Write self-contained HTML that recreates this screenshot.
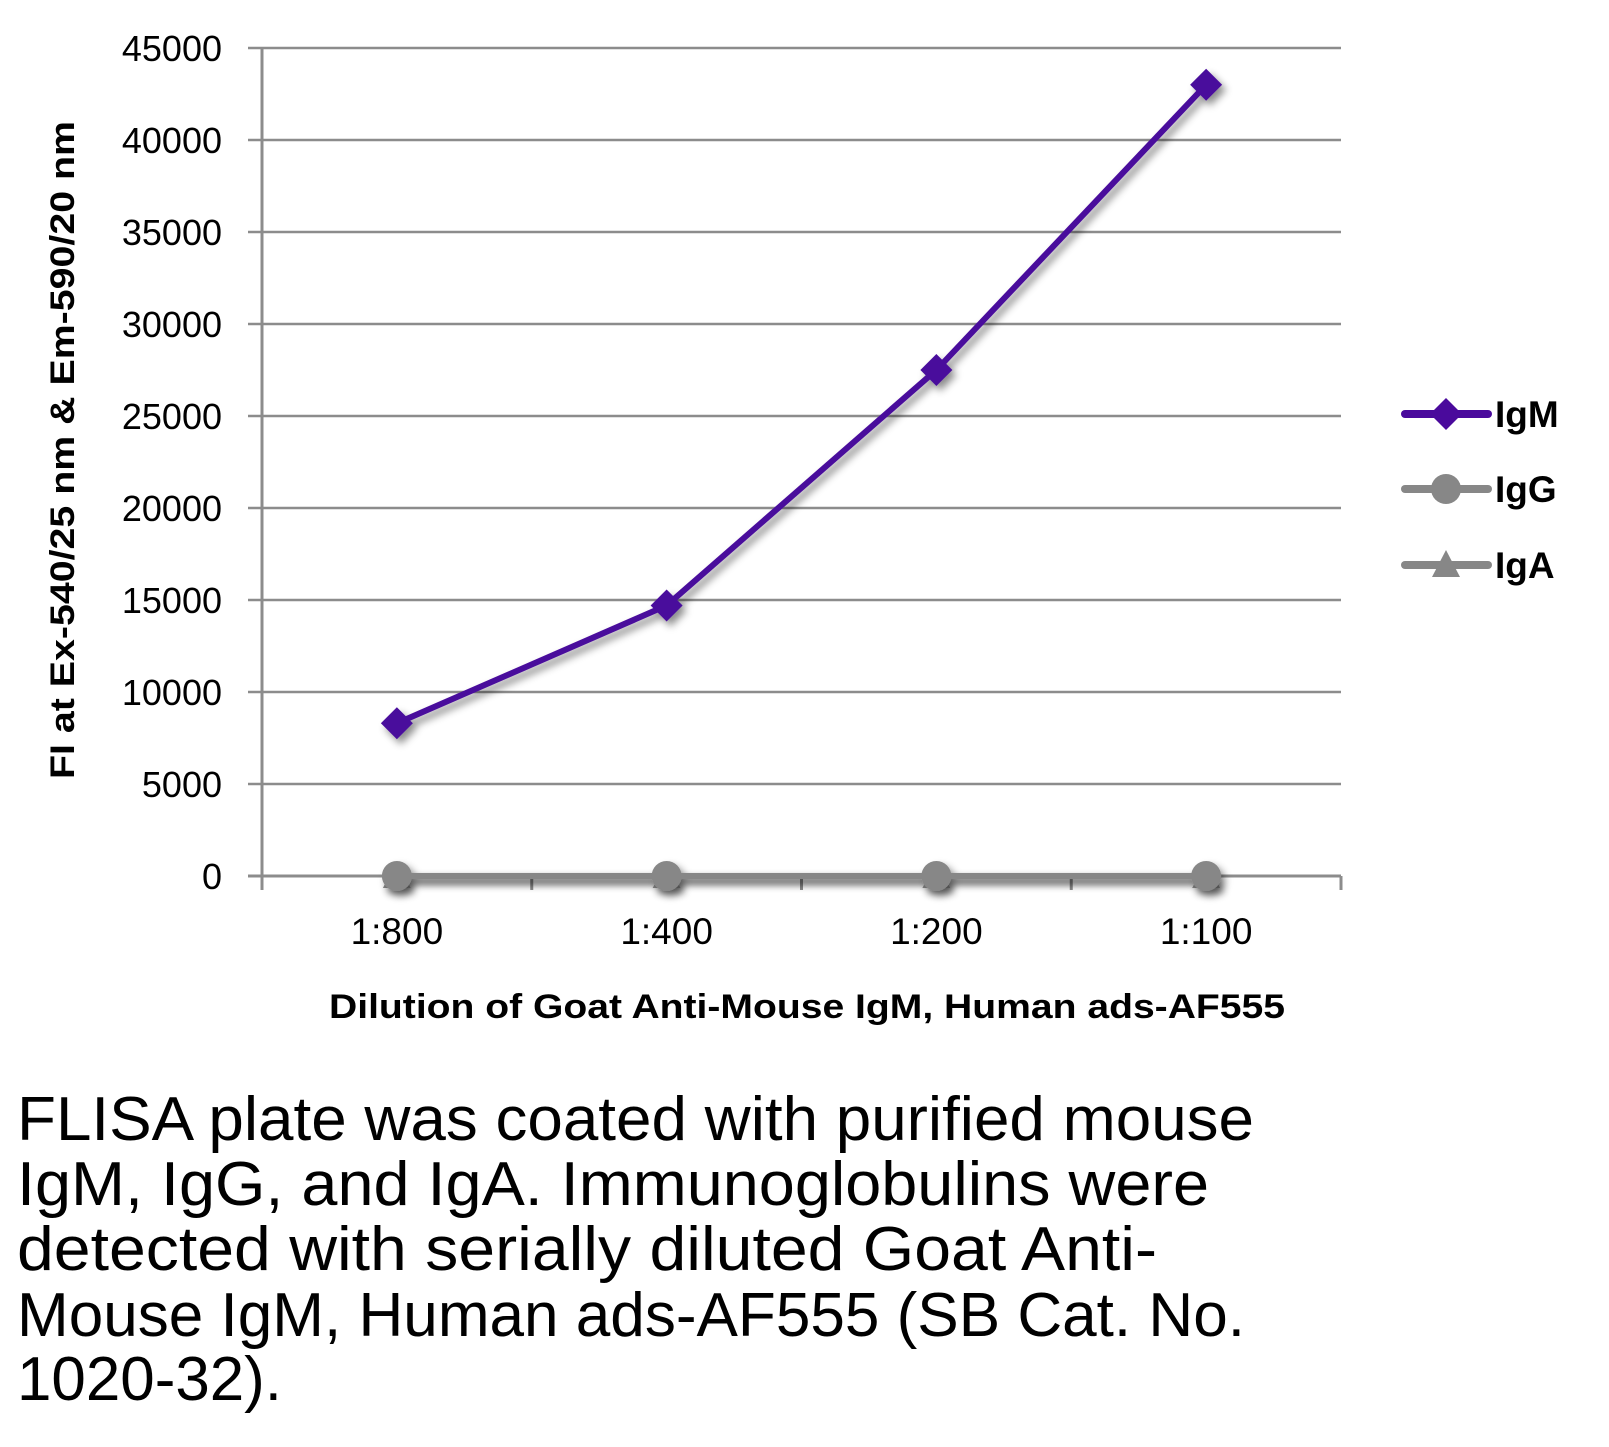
<!DOCTYPE html>
<html><head><meta charset="utf-8"><style>
body{margin:0;background:#fff}
svg{display:block}
text{font-family:"Liberation Sans",sans-serif}
</style></head><body>
<svg id="chart" width="1609" height="1447" viewBox="0 0 1609 1447" xmlns="http://www.w3.org/2000/svg">
<defs>
<filter id="sh" x="-50%" y="-50%" width="200%" height="200%"><feDropShadow dx="4" dy="5" stdDeviation="4" flood-color="#000" flood-opacity="0.45"/></filter>
</defs>
<g id="grid"></g>
<g id="axes"></g>
<g id="series"></g>
<text x="807" y="1018" text-anchor="middle" font-weight="bold" font-size="34" textLength="956" lengthAdjust="spacingAndGlyphs">Dilution of Goat Anti-Mouse IgM, Human ads-AF555</text>
<text transform="translate(74,450) rotate(-90)" text-anchor="middle" font-weight="bold" font-size="34" textLength="658" lengthAdjust="spacingAndGlyphs">FI at Ex-540/25 nm &amp; Em-590/20 nm</text>
<g id="legend"></g>
<g font-size="62">
<text x="17" y="1140" textLength="1237" lengthAdjust="spacingAndGlyphs">FLISA plate was coated with purified mouse</text>
<text x="17" y="1205" textLength="1192" lengthAdjust="spacingAndGlyphs">IgM, IgG, and IgA.  Immunoglobulins were</text>
<text x="17" y="1270" textLength="1140" lengthAdjust="spacingAndGlyphs">detected with serially diluted Goat Anti-</text>
<text x="17" y="1336" textLength="1228" lengthAdjust="spacingAndGlyphs">Mouse IgM, Human ads-AF555 (SB Cat. No.</text>
<text x="17" y="1400" textLength="265" lengthAdjust="spacingAndGlyphs">1020-32).</text>
</g>
</svg>
<script>
const categories = ["1:800","1:400","1:200","1:100"];
const igmValues = [8300, 14700, 27500, 43000];
const iggValues = [0, 0, 0, 0];
const igaValues = [0, 0, 0, 0];
const yTicks = [0,5000,10000,15000,20000,25000,30000,35000,40000,45000];
const seriesNames = ["IgM","IgG","IgA"];

const NS="http://www.w3.org/2000/svg";
const X0=262, X1=1341, Y0=876, Y1=48, YMAX=45000;
function xPos(i){return X0+(X1-X0)/categories.length*(i+0.5);}
function yPos(v){return Y0-(Y0-Y1)*v/YMAX;}
function mk(tag,attrs,parent){const e=document.createElementNS(NS,tag);for(const k in attrs)e.setAttribute(k,attrs[k]);parent.appendChild(e);return e;}
const grid=document.getElementById('grid'), axes=document.getElementById('axes'), ser=document.getElementById('series'), leg=document.getElementById('legend');
yTicks.forEach(t=>{
  const y=yPos(t);
  if(t>0){const l=mk('line',{x1:248,x2:X1,y1:y,y2:y,stroke:'#8c8c8c','stroke-width':2.5},grid);
  
  }
  const tx=mk('text',{x:222,y:y+13,'text-anchor':'end','font-size':36},axes);tx.textContent=t;
  
  
});
mk('line',{x1:X0,x2:X0,y1:Y1,y2:Y0+14,stroke:'#8c8c8c','stroke-width':3},axes);
const xa=mk('line',{x1:248,x2:X1,y1:Y0,y2:Y0,stroke:'#8c8c8c','stroke-width':3},axes);


for(let i=0;i<=categories.length;i++){const x=X0+(X1-X0)/categories.length*i;mk('line',{x1:x,x2:x,y1:Y0,y2:Y0+14,stroke:'#8c8c8c','stroke-width':3},axes);}
categories.forEach((c,i)=>{const t=mk('text',{x:xPos(i),y:944,'text-anchor':'middle','font-size':37},axes);t.textContent=c;
  
  });
function marker(type,x,y,color,parent){
  if(type==='d') return mk('polygon',{points:`${x},${y-16} ${x+16},${y} ${x},${y+16} ${x-16},${y}`,fill:color},parent);
  if(type==='c') return mk('circle',{cx:x,cy:y,r:15,fill:color},parent);
  return mk('polygon',{points:`${x},${y-15} ${x+14},${y+12} ${x-14},${y+12}`,fill:color},parent);
}
function drawSeries(vals,color,type,name){
  const g=mk('g',{filter:'url(#sh)'},ser);
  
  
  mk('polyline',{points:vals.map((v,i)=>xPos(i)+','+yPos(v)).join(' '),fill:'none',stroke:color,'stroke-width':6,'stroke-linejoin':'round'},g);
  vals.forEach((v,i)=>{const m=marker(type,xPos(i),yPos(v),color,g);
    
    });
}
drawSeries(igaValues,'#878787','t','iga');
drawSeries(iggValues,'#878787','c','igg');
drawSeries(igmValues,'#4a0a9c','d','igm');
const legY=[414,489,565], legCol=['#4a0a9c','#878787','#878787'], legType=['d','c','t'];
seriesNames.forEach((n,i)=>{
  const g=mk('g',{},leg);
  
  
  mk('line',{x1:1405,x2:1488,y1:legY[i],y2:legY[i],stroke:legCol[i],'stroke-width':8,'stroke-linecap':'round'},g);
  marker(legType[i],1446,legY[i],legCol[i],g);
  const t=mk('text',{x:1495,y:legY[i]+13,'font-size':37,'font-weight':'bold'},g);t.textContent=n;
});
</script>
</body></html>
